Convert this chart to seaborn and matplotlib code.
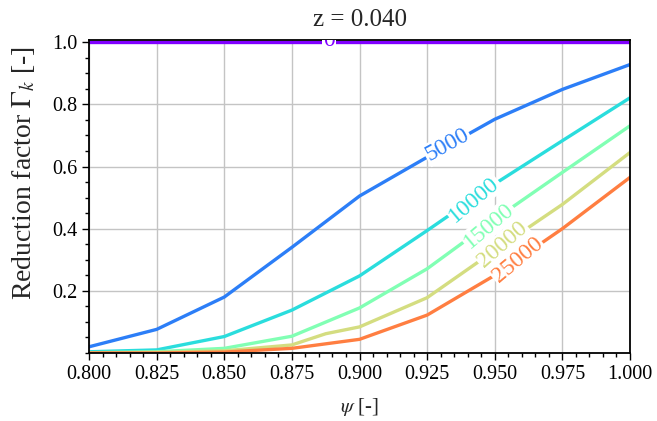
import matplotlib
matplotlib.use("Agg")
import numpy as np
import pandas as pd
import seaborn as sns
import matplotlib.pyplot as plt
from matplotlib.ticker import MultipleLocator

# psi grid and reduction factor
psi = [0.800, 0.825, 0.850, 0.875, 0.900, 0.925, 0.950, 0.975, 1.000]
psi_20000 = [0.800, 0.825, 0.850, 0.875, 0.8875, 0.900, 0.925, 0.950, 0.975, 1.000]

gamma_0 = [1.0, 1.0, 1.0, 1.0, 1.0, 1.0, 1.0, 1.0, 1.0]
gamma_5000 = [0.020, 0.076, 0.180, 0.340, 0.505, 0.630, 0.752, 0.848, 0.928]
gamma_10000 = [0.004, 0.010, 0.053, 0.138, 0.248, 0.394, 0.544, 0.683, 0.821]
gamma_15000 = [0.001, 0.004, 0.015, 0.054, 0.145, 0.271, 0.430, 0.581, 0.731]
gamma_20000 = [0.000, 0.002, 0.007, 0.026, 0.062, 0.084, 0.178, 0.330, 0.478, 0.645]
gamma_25000 = [0.000, 0.000, 0.003, 0.015, 0.044, 0.122, 0.250, 0.400, 0.565]

levels = [0, 5000, 10000, 15000, 20000, 25000]

# inline label positions (psi, gamma, angle)
label_pos = {
    0: (0.8888, 1.006, 0),
    5000: (0.9325, 0.669, 29),
    10000: (0.9424, 0.494, 40),
    15000: (0.9479, 0.410, 40),
    20000: (0.9530, 0.349, 41),
    25000: (0.9585, 0.298, 40),
}

series = {
    0: (psi, gamma_0),
    5000: (psi, gamma_5000),
    10000: (psi, gamma_10000),
    15000: (psi, gamma_15000),
    20000: (psi_20000, gamma_20000),
    25000: (psi, gamma_25000),
}
df = pd.concat([pd.DataFrame({"psi": x, "gamma": y, "level": lv})
                for lv, (x, y) in series.items()], ignore_index=True)

cmap = matplotlib.colormaps["rainbow"]
palette = {lv: cmap(i / 6) for i, lv in enumerate(levels)}

sns.set_style("whitegrid")
plt.rcParams["font.family"] = ["Liberation Serif", "DejaVu Serif"]
plt.rcParams["mathtext.fontset"] = "stix"

fig = plt.figure(figsize=(6.57, 4.21), dpi=100)
ax = fig.add_axes([0.1355, 0.1615, 0.8234, 0.7435])

sns.lineplot(data=df, x="psi", y="gamma", hue="level", palette=palette,
             estimator=None, sort=True, linewidth=2.4, legend=False, ax=ax)

for lv in levels:
    lx, ly, ang = label_pos[lv]
    ax.text(lx, ly, str(lv), rotation=ang, rotation_mode="anchor",
            ha="center", va="center", color=palette[lv], fontsize=17,
            bbox=dict(fc="white", ec="none", pad=0.8), clip_on=True, zorder=4)

ax.set_xlim(0.8, 1.0)
ax.set_ylim(0.0, 1.007)
ax.set_xticks([0.800, 0.825, 0.850, 0.875, 0.900, 0.925, 0.950, 0.975, 1.000])
ax.set_yticks([0.2, 0.4, 0.6, 0.8, 1.0])
ax.set_xticklabels([f"{v:.3f}" for v in ax.get_xticks()])
ax.set_yticklabels([f"{v:.1f}" for v in ax.get_yticks()])
ax.xaxis.set_minor_locator(MultipleLocator(0.005))
ax.yaxis.set_minor_locator(MultipleLocator(0.05))
ax.tick_params(which="both", direction="out", left=True, bottom=True,
               colors="black", labelsize=14.5, width=1)
ax.tick_params(which="major", length=5)
ax.tick_params(which="minor", length=3)
ax.grid(True, which="major", color="#c4c4c4", linewidth=1.0)
ax.grid(False, which="minor")
ax.set_axisbelow(True)
for s in ax.spines.values():
    s.set_color("black")
    s.set_linewidth(1.3)

ax.set_title("z = 0.040", fontsize=18, pad=10)
ax.set_xlabel(r"$\psi$ [-]", fontsize=15, labelpad=9)
ax.set_ylabel(r"Reduction factor $\Gamma_k$ [-]", fontsize=20)
ax.yaxis.set_label_coords(-0.097, 0.575)

fig.savefig("out.png", dpi=100)
